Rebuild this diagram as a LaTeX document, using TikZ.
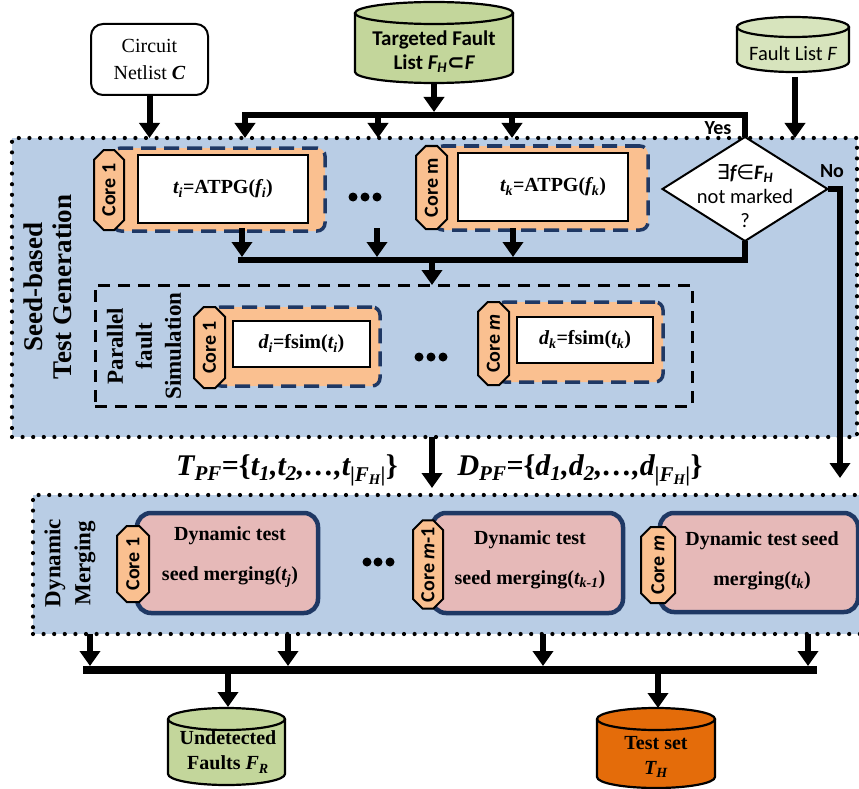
\documentclass[tikz,border=0pt]{standalone}
\usepackage{fontspec}
\setmainfont{Liberation Serif}
\newfontfamily\sansf{Carlito}
\newfontfamily\symf{DejaVu Sans}
\usetikzlibrary{arrows.meta,shapes.misc,shapes.geometric}
\definecolor{boxblue}{HTML}{B9CDE5}
\definecolor{coreor}{HTML}{FAC090}
\definecolor{dkblue}{HTML}{1F3864}
\definecolor{pinkc}{HTML}{E6B9B8}
\definecolor{greenc}{HTML}{C3D69B}
\definecolor{ltgreen}{HTML}{D7E4BD}
\definecolor{tsor}{HTML}{E46C0A}
\newcommand\mysub[1]{\textsubscript{#1}}
\begin{document}
\begin{tikzpicture}[x=1pt,y=-1pt,
  every node/.style={inner sep=0pt, outer sep=0pt, align=center},
  bigbox/.style={fill=boxblue, draw=black, line width=4.2pt, dash pattern=on 0pt off 10.6pt, line cap=round},
  grp/.style={fill=coreor, draw=dkblue, line width=3.5pt, dash pattern=on 15pt off 8pt, rounded corners=8pt},
  inbox/.style={fill=white, draw=black, line width=2.5pt, font=\fontsize{20}{24}\selectfont\bfseries},
  tag/.style={chamfered rectangle, chamfered rectangle xsep=8pt, fill=coreor, draw=black, line width=2pt, rotate=90, font=\sansf\fontsize{20}{22}\selectfont\bfseries},
  pinkb/.style={fill=pinkc, draw=dkblue, line width=4.5pt, rounded corners=14pt},
  mtext/.style={font=\fontsize{20}{40}\selectfont\bfseries},
  para/.style={draw=black, line width=3pt, dash pattern=on 12pt off 8pt},
  ln/.style={line width=6pt},
  arr/.style={line width=6pt, -{Triangle[width=20pt,length=15pt]}},
  cylline/.style={draw=black, line width=2.2pt},
  serif20/.style={font=\fontsize{20}{25}\selectfont\bfseries},
  sans20/.style={font=\sansf\fontsize{20.5}{24}\selectfont},
]
\useasboundingbox (0,0) rectangle (859,789);
\fill[white] (0,0) rectangle (859,789);

% ---------- containers ----------
\node[bigbox, minimum width=845pt, minimum height=299pt] (gen) at (434.5,287.5) {};
\node[bigbox, minimum width=829pt, minimum height=139pt] (mrg) at (447.5,564.5) {};

\node[rotate=90, font=\fontsize{27}{29}\selectfont\bfseries] (genlbl) at (47.5,287) {Seed-based\\Test Generation};

% ---------- inputs ----------
\node[draw, line width=2pt, rounded corners=12pt, fill=white, minimum width=117pt, minimum height=71pt, font=\fontsize{20}{27}\selectfont] (ckt) at (149.5,59.5) {Circuit\\Netlist \textbf{\textit{C}}};

% targeted fault list cylinder
\fill[greenc] (355,13) -- (355,72) arc[start angle=180,end angle=360,x radius=79pt,y radius=11pt] -- (513,13) arc[start angle=0,end angle=180,x radius=79pt,y radius=11pt] -- cycle;
\draw[cylline] (355,13) -- (355,72) arc[start angle=180,end angle=360,x radius=79pt,y radius=11pt] -- (513,13);
\draw[cylline] (434,13) ellipse[x radius=79pt,y radius=11pt];
\node[font=\sansf\fontsize{21}{24}\selectfont\bfseries] (tgt) at (434,52) {Targeted Fault\\List {\itshape F\mysub{H}}{\symf ⊂}{\itshape F}};
\coordinate (tgtb) at (434,83);

% fault list F cylinder
\fill[ltgreen] (737,27) -- (737,62) arc[start angle=180,end angle=360,x radius=56pt,y radius=10pt] -- (849,27) arc[start angle=0,end angle=180,x radius=56pt,y radius=10pt] -- cycle;
\draw[cylline] (737,27) -- (737,62) arc[start angle=180,end angle=360,x radius=56pt,y radius=10pt] -- (849,27);
\draw[cylline] (793,27) ellipse[x radius=56pt,y radius=10pt];
\node[sans20] (fl) at (793,53) {Fault List {\itshape F}};
\coordinate (flb) at (795,77);

% ---------- ATPG row ----------
\node[grp, minimum width=212pt, minimum height=83pt] (g1) at (219,189.5) {};
\node[inbox, minimum width=170pt, minimum height=68pt] (a1) at (223,189) {{\itshape t}\mysub{\itshape i}=ATPG({\itshape f}\mysub{\itshape i})};
\node[tag, minimum width=80pt, minimum height=30pt] (c1) at (109,190) {Core 1};

\node[grp, minimum width=213pt, minimum height=84pt] (gm) at (541.5,188) {};
\node[inbox, minimum width=170pt, minimum height=68pt] (am) at (543,187) {\hspace*{20pt}{\itshape t}\mysub{\itshape k}=ATPG({\itshape f}\mysub{\itshape k})};
\node[tag, minimum width=83pt, minimum height=31pt] (cm) at (431.5,187.5) {Core m};

\foreach \xx in {353,365,377} \fill (\xx,197) circle[radius=4.5pt];

% decision
\node[diamond, draw, fill=white, line width=2pt, minimum width=165pt, minimum height=104pt] (dia) at (745,189) {};
\node[sans20] (diat) at (745,196) {{\symf ∃}{\bfseries\itshape f}{\symf ∈}{\bfseries\itshape F\mysub{H}}\\not marked\\?};
\node[font=\sansf\fontsize{20}{20}\selectfont\bfseries] (yes) at (718,128) {Yes};
\node[font=\sansf\fontsize{20}{20}\selectfont\bfseries] (no) at (832,171) {No};

% ---------- parallel fault simulation ----------
\node[para, minimum width=597pt, minimum height=121pt] (pfs) at (393.5,345.5) {};
\node[rotate=90, font=\fontsize{23}{29}\selectfont\bfseries] (pfl) at (144,346) {Parallel\\fault\\Simulation};

\node[grp, minimum width=167pt, minimum height=79pt] (pg1) at (296.5,346.5) {};
\node[inbox, minimum width=137pt, minimum height=46pt] (s1) at (301.5,344) {{\itshape d}\mysub{\itshape i}=fsim({\itshape t}\mysub{\itshape i})};
\node[tag, minimum width=81pt, minimum height=31pt] (pc1) at (209.5,347.5) {Core 1};

\node[grp, minimum width=166pt, minimum height=80pt] (pgm) at (580,342) {};
\node[inbox, minimum width=136pt, minimum height=46pt] (sm) at (585,340) {{\itshape d}\mysub{\itshape k}=fsim({\itshape t}\mysub{\itshape k})};
\node[tag, minimum width=83pt, minimum height=31pt] (pcm) at (493.5,343.5) {Core {\itshape m}};

\foreach \xx in {419,431,443} \fill (\xx,357) circle[radius=4.5pt];

% ---------- set labels ----------
\node[font=\fontsize{30}{32}\selectfont\bfseries] (tpf) at (287,470) {{\itshape T\mysub{PF}}=\{{\itshape t\mysub{1},t\mysub{2},\ldots,t\mysub{|F\mysub{H}|}}\}};
\node[font=\fontsize{30}{32}\selectfont\bfseries] (dpf) at (580,470) {{\itshape D\mysub{PF}}=\{{\itshape d\mysub{1},d\mysub{2},\ldots,d\mysub{|F\mysub{H}|}}\}};

% ---------- dynamic merging ----------
\node[rotate=90, font=\fontsize{23}{30}\selectfont\bfseries] (dml) at (70,563) {Dynamic\\Merging};

\node[pinkb, minimum width=181pt, minimum height=100pt] (m1) at (227.5,563) {};
\node[mtext] (m1t) at (230,557) {Dynamic test\\seed merging({\itshape t\mysub{j}})};
\node[tag, minimum width=76pt, minimum height=32pt] (mc1) at (133,564) {Core 1};

\node[pinkb, minimum width=191pt, minimum height=100pt] (m2) at (527.5,563) {};
\node[mtext] (m2t) at (530,560) {Dynamic test\\seed merging({\itshape t\mysub{k-1}})};
\node[tag, minimum width=85pt, minimum height=30pt] (mc2) at (428,564.5) {Core {\itshape m}-1};

\node[pinkb, minimum width=198pt, minimum height=99pt] (m3) at (759,562.5) {};
\node[mtext] (m3t) at (762,561) {Dynamic test seed\\merging({\itshape t\mysub{k}})};
\node[tag, minimum width=76pt, minimum height=34pt] (mc3) at (658,565) {Core {\itshape m}};

\foreach \xx in {367,378,390} \fill (\xx,562) circle[radius=4.5pt];

% ---------- outputs ----------
\fill[greenc] (168,719) -- (168,774) arc[start angle=180,end angle=360,x radius=58.5pt,y radius=11pt] -- (285,719) arc[start angle=0,end angle=180,x radius=58.5pt,y radius=11pt] -- cycle;
\draw[cylline] (168,719) -- (168,774) arc[start angle=180,end angle=360,x radius=58.5pt,y radius=11pt] -- (285,719);
\draw[cylline] (226.5,719) ellipse[x radius=58.5pt,y radius=11pt];
\node[serif20] (und) at (228,752) {Undetected\\Faults {\itshape F\mysub{R}}};
\coordinate (undt) at (228,707);

\fill[tsor] (597,719) -- (597,777) arc[start angle=180,end angle=360,x radius=59pt,y radius=11pt] -- (715,719) arc[start angle=0,end angle=180,x radius=59pt,y radius=11pt] -- cycle;
\draw[cylline] (597,719) -- (597,777) arc[start angle=180,end angle=360,x radius=59pt,y radius=11pt] -- (715,719);
\draw[cylline] (656,719) ellipse[x radius=59pt,y radius=11pt];
\node[serif20] (ts) at (656,757) {Test set\\{\itshape T\mysub{H}}};
\coordinate (tst) at (658,708);

% ---------- connectors ----------
\coordinate (ya) at (745,115);
\coordinate (yb) at (245,115);
\coordinate (yc) at (245,138);
\coordinate (y2a) at (378,115);
\coordinate (y2b) at (378,138);
\coordinate (y3a) at (512,115);
\coordinate (y3b) at (512,138);
\coordinate (tgtj) at (434,112);
\draw[arr] (ckt.south) -- (ckt.south |- gen.north);
\draw[arr] (tgtb) -- (tgtj);
\draw[arr] (dia.north) -- (ya) -- (yb) -- (yc);
\draw[arr] (y2a) -- (y2b);
\draw[arr] (y3a) -- (y3b);
\draw[arr] (flb) -- (flb |- gen.north);

\coordinate (na) at (840,189);
\coordinate (nb) at (840,478);
\draw[arr] (dia.east) -- (na) -- (nb);

\coordinate (ma) at (745,260);
\coordinate (mb) at (238,260);
\draw[ln] (dia.south) -- (ma) -- (mb);
\coordinate (a1s) at (242,228);
\coordinate (a1e) at (242,257);
\coordinate (a2s) at (377,228);
\coordinate (a2e) at (377,257);
\coordinate (a3s) at (513,228);
\coordinate (a3e) at (513,257);
\draw[arr] (a1s) -- (a1e);
\draw[arr] (a2s) -- (a2e);
\draw[arr] (a3s) -- (a3e);
\coordinate (pin) at (432,260);
\draw[arr] (pin) -- (pin |- pfs.north);

\coordinate (gout) at (432,437);
\coordinate (gin) at (432,488);
\draw[arr] (gout) -- (gin);

\coordinate (bl) at (83,670);
\coordinate (br) at (817,670);
\draw[line width=8pt] (bl) -- (br);
\foreach \xx/\nm in {90/o1,288/o2,543/o3,808/o4}{
  \coordinate (\nm s) at (\xx,634);
  \coordinate (\nm e) at (\xx,666);
  \draw[arr] (\nm s) -- (\nm e);
}
\coordinate (ub) at (228,674);
\coordinate (tb) at (658,674);
\draw[arr] (ub) -- (undt);
\draw[arr] (tb) -- (tst);
\end{tikzpicture}
\end{document}
